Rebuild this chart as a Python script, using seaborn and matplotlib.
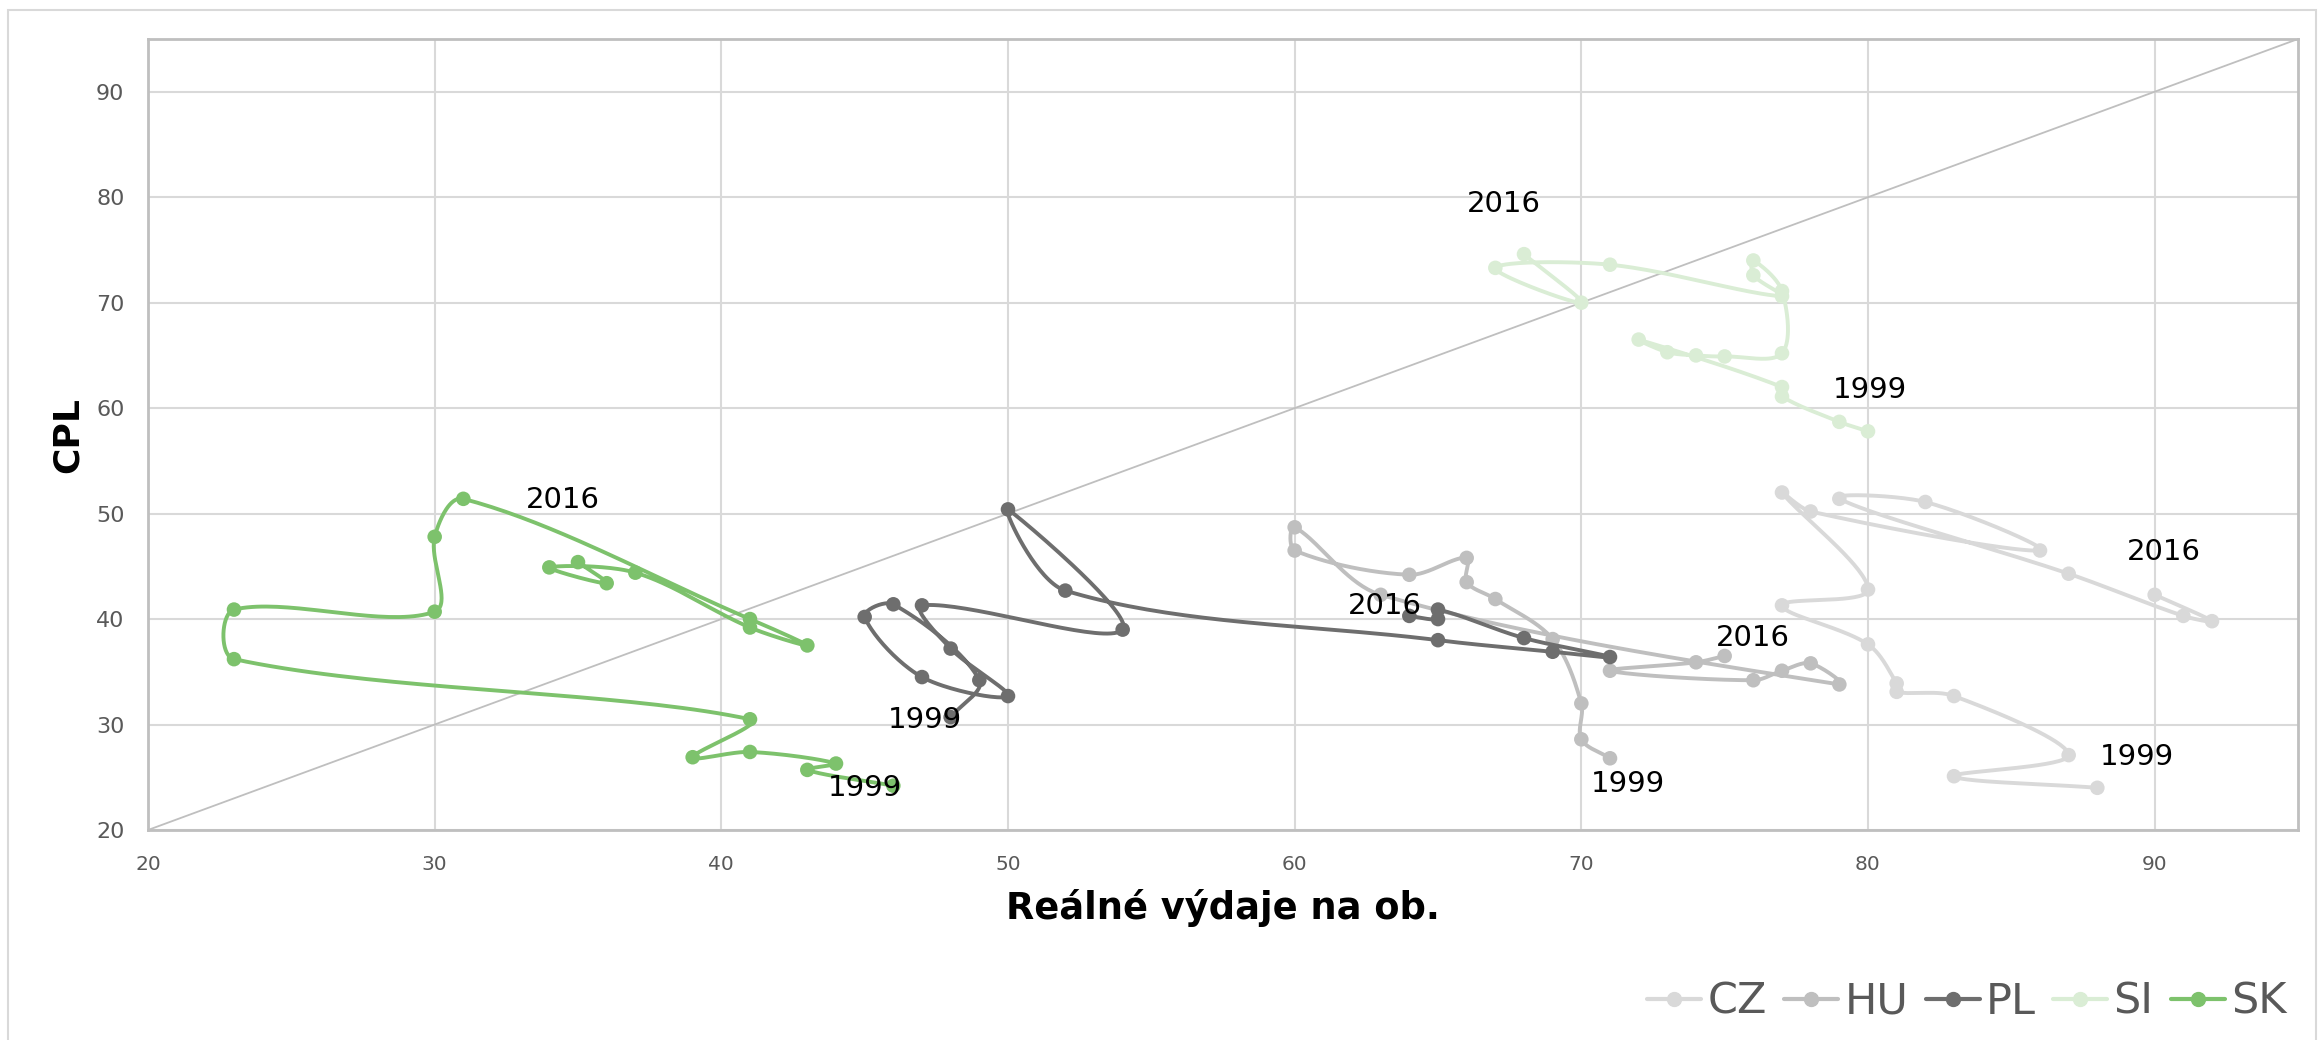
import numpy as np
import pandas as pd
import matplotlib.pyplot as plt
import seaborn as sns
from matplotlib.lines import Line2D
from matplotlib.patches import Rectangle

# hodnoty (1999 -> 2016)
countries = ['CZ', 'HU', 'PL', 'SI', 'SK']
colors = ['#d9d9d9', '#bfbfbf', '#6e6e6e', '#daedd5', '#7dc26c']

cz_x = [88, 83, 87, 83, 81, 81, 80, 77, 80, 77, 78, 86, 82, 79, 87, 91, 92, 90]
cz_y = [24.0, 25.1, 27.1, 32.7, 33.1, 33.9, 37.6, 41.3, 42.8, 52.0, 50.2, 46.5, 51.1, 51.4, 44.3, 40.3, 39.8, 42.3]

hu_x = [71, 70, 70, 69, 67, 66, 66, 64, 60, 60, 63, 79, 78, 77, 76, 71, 74, 75]
hu_y = [26.8, 28.6, 32.0, 38.1, 41.9, 43.5, 45.8, 44.2, 46.5, 48.7, 42.3, 33.8, 35.8, 35.1, 34.2, 35.1, 35.9, 36.5]

pl_x = [48, 49, 46, 45, 47, 50, 48, 47, 54, 50, 52, 65, 69, 71, 68, 65, 65, 64]
pl_y = [30.7, 34.2, 41.4, 40.2, 34.5, 32.7, 37.2, 41.3, 39.0, 50.4, 42.7, 38.0, 36.9, 36.4, 38.2, 40.9, 40.0, 40.3]

si_x = [80, 79, 77, 77, 72, 73, 74, 75, 77, 77, 76, 76, 77, 71, 67, 70, 68]
si_y = [57.8, 58.7, 61.1, 62.0, 66.5, 65.3, 65.0, 64.9, 65.2, 71.1, 74.0, 72.6, 70.6, 73.6, 73.3, 70.0, 74.6]

sk_x = [46, 43, 44, 41, 39, 41, 23, 23, 30, 30, 31, 41, 43, 41, 37, 34, 36, 35]
sk_y = [24.2, 25.7, 26.3, 27.4, 26.9, 30.5, 36.2, 40.9, 40.7, 47.8, 51.4, 40.0, 37.5, 39.2, 44.4, 44.9, 43.4, 45.4]

diag = [20, 95]
ticks = [20, 30, 40, 50, 60, 70, 80, 90]

series_x = [cz_x, hu_x, pl_x, si_x, sk_x]
series_y = [cz_y, hu_y, pl_y, si_y, sk_y]

# posun popisků 1999 / 2016 v pixelech
label_off = {
    'CZ': [(40, 31), (9, 43)],
    'HU': [(18, -26), (28, 18)],
    'PL': [(-26, -3), (-24, 10)],
    'SI': [(2, 41), (-20, 50)],
    'SK': [(-28, -2), (-15, 62)],
}


def smooth(ax, xs, ys, n=40):
    # vyhlazená čára podobná Excelu - počítá se v pixelech, tečny váhou délek úseků
    p = ax.transData.transform(np.column_stack([xs, ys]).astype(float))
    ext = np.vstack([p[:1], p, p[-1:]])
    t = np.linspace(0, 1, n)[1:, None]
    out = [p[:1]]
    for i in range(len(p) - 1):
        p0, p1, p2, p3 = ext[i], ext[i + 1], ext[i + 2], ext[i + 3]
        d01 = np.hypot(*(p1 - p0))
        d12 = np.hypot(*(p2 - p1))
        d23 = np.hypot(*(p3 - p2))
        c1 = p1 + (p2 - p0) * d12 / (3 * (d01 + d12)) if d01 > 0 else p1 + (p2 - p1) / 3
        c2 = p2 - (p3 - p1) * d12 / (3 * (d12 + d23)) if d23 > 0 else p2 - (p2 - p1) / 3
        seg = (1 - t) ** 3 * p1 + 3 * (1 - t) ** 2 * t * c1 + 3 * (1 - t) * t ** 2 * c2 + t ** 3 * p2
        out.append(seg)
    s = ax.transData.inverted().transform(np.vstack(out))
    return pd.DataFrame({'x': s[:, 0], 'y': s[:, 1]})


sns.set_style('white')
plt.rcParams['font.family'] = ['DejaVu Sans']

fig = plt.figure(figsize=(23.19, 10.40), dpi=100)
ax = fig.add_axes([148 / 2319, 210 / 1040, 2150 / 2319, 791 / 1040])
ax.set_xlim(20, 95)
ax.set_ylim(20, 95)

sns.lineplot(x=diag, y=diag, color='#bfbfbf', lw=1.3, ax=ax, zorder=1)

for i, c in enumerate(countries):
    df = smooth(ax, series_x[i], series_y[i])
    sns.lineplot(data=df, x='x', y='y', sort=False, estimator=None,
                 color=colors[i], lw=2.8, ax=ax, zorder=2 + i)
    sns.scatterplot(x=series_x[i], y=series_y[i], color=colors[i], s=110,
                    edgecolor='none', ax=ax, zorder=2 + i)
    for k, idx, txt in [(0, 0, '1999'), (1, -1, '2016')]:
        ax.annotate(txt, (series_x[i][idx], series_y[i][idx]),
                    xytext=label_off[c][k], textcoords='offset pixels',
                    ha='center', va='center', fontsize=21, color='black', zorder=10)

ax.set_xlim(20, 95)
ax.set_ylim(20, 95)
ax.set_xticks(ticks)
ax.set_yticks(ticks)
ax.grid(True, color='#d9d9d9', lw=1.5)
ax.set_axisbelow(True)
for sp in ax.spines.values():
    sp.set_color('#bfbfbf')
    sp.set_linewidth(2)
ax.tick_params(axis='x', length=0, pad=18, labelsize=14.5, labelcolor='#595959')
ax.tick_params(axis='y', length=0, pad=17, labelsize=16, labelcolor='#595959')

ax.set_xlabel('Reálné výdaje na ob.', fontsize=26.5, fontweight='bold', color='black')
ax.set_ylabel('CPL', fontsize=26, fontweight='bold', color='black')
ax.xaxis.set_label_coords(0.5, -0.075)
ax.yaxis.set_label_coords(-0.0296, 0.499)

handles = [Line2D([0], [0], color=colors[i], lw=3, marker='o', markersize=10)
           for i in range(len(countries))]
fig.legend(handles, countries, loc='center right', bbox_to_anchor=(2308 / 2319, 1 - 1002 / 1040),
           ncol=5, frameon=False, fontsize=31, handlelength=1.25, handletextpad=0.15,
           columnspacing=0.4, borderpad=0, labelcolor='#595959')

# rámeček grafu
fig.patches.append(Rectangle((8 / 2319, -0.02), 2308 / 2319, 1.02 - 10 / 1040,
                             transform=fig.transFigure, fill=False,
                             edgecolor='#d9d9d9', lw=1.5))

fig.savefig('out.png', dpi=100)
